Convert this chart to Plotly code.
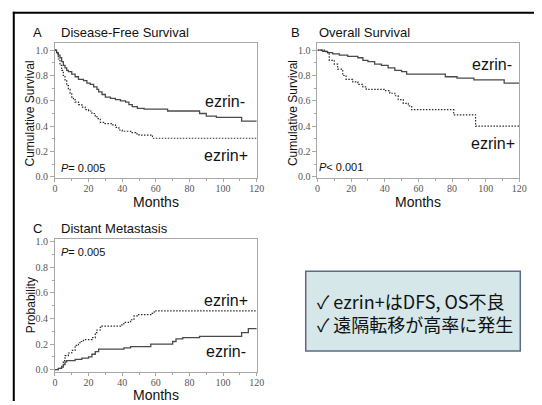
import plotly.graph_objects as go

W, H = 542, 405

# ---------------- data (months, probability) ----------------
dfs_neg_t = [0, 1, 2, 3, 4, 5, 6, 7, 8, 10, 12, 14, 17, 19, 21, 23, 25, 26, 28, 30, 33, 36, 39, 42, 44, 46, 49, 53, 67, 86, 90, 96, 111, 120]
dfs_neg_s = [1.0, 0.98, 0.96, 0.94, 0.91, 0.88, 0.86, 0.84, 0.83, 0.81, 0.79, 0.77, 0.76, 0.74, 0.73, 0.71, 0.69, 0.67, 0.65, 0.63, 0.62, 0.61, 0.60, 0.59, 0.57, 0.555, 0.54, 0.535, 0.52, 0.50, 0.48, 0.47, 0.44, 0.44]
dfs_pos_t = [0, 1, 2, 3, 4, 5, 6, 7, 8, 9, 10, 11, 12, 14, 16, 18, 20, 22, 24, 25, 27, 29, 34, 36, 38, 40, 45, 48, 50, 58, 120]
dfs_pos_s = [1.0, 0.97, 0.93, 0.88, 0.84, 0.80, 0.76, 0.72, 0.69, 0.66, 0.63, 0.61, 0.59, 0.57, 0.55, 0.53, 0.52, 0.50, 0.48, 0.46, 0.43, 0.42, 0.41, 0.39, 0.37, 0.36, 0.35, 0.34, 0.33, 0.305, 0.305]

os_neg_t = [0, 3, 6, 9, 13, 18, 24, 27, 30, 34, 38, 42, 46, 50, 53, 76, 83, 93, 111, 120]
os_neg_s = [1.0, 0.99, 0.98, 0.97, 0.96, 0.95, 0.94, 0.92, 0.91, 0.89, 0.88, 0.86, 0.84, 0.83, 0.81, 0.79, 0.78, 0.765, 0.74, 0.74]
os_pos_t = [0, 5, 7, 10, 12, 15, 17, 21, 24, 27, 29, 40, 43, 46, 48, 51, 54, 56, 81, 94, 120]
os_pos_s = [1.0, 0.98, 0.92, 0.89, 0.85, 0.80, 0.77, 0.75, 0.73, 0.71, 0.69, 0.68, 0.66, 0.64, 0.61, 0.58, 0.56, 0.53, 0.49, 0.40, 0.40]

dm_pos_t = [0, 2, 4, 5, 6, 8, 10, 12, 14, 15, 17, 22, 24, 25, 27, 28, 39, 41, 45, 47, 49, 57, 59, 120]
dm_pos_p = [0.0, 0.01, 0.03, 0.07, 0.11, 0.13, 0.15, 0.19, 0.21, 0.22, 0.235, 0.25, 0.29, 0.31, 0.33, 0.34, 0.35, 0.37, 0.39, 0.42, 0.43, 0.44, 0.46, 0.46]
dm_neg_t = [0, 2, 4, 5, 6, 7, 12, 16, 20, 22, 24, 26, 41, 45, 57, 70, 72, 76, 86, 111, 115, 120]
dm_neg_p = [0.0, 0.01, 0.02, 0.04, 0.06, 0.07, 0.08, 0.09, 0.10, 0.12, 0.14, 0.16, 0.17, 0.18, 0.20, 0.22, 0.24, 0.25, 0.26, 0.29, 0.32, 0.32]

y_ticks = [0.0, 0.2, 0.4, 0.6, 0.8, 1.0]
y_ticktext = ["0.0", "0.2", "0.4", "0.6", "0.8", "1.0"]
x_ticks = [0, 20, 40, 60, 80, 100, 120]

panel_titles = [("A", "Disease-Free Survival"), ("B", "Overall Survival"), ("C", "Distant Metastasis")]
summary_lines = ["✓ ezrin+はDFS, OS不良", "✓ 遠隔転移が高率に発生"]


def fx(px):
    return px / W


def fy(py):
    return 1 - py / H


SANS = "Liberation Sans"
SERIF = "Liberation Serif"
FRAME = "#a8a8a8"

solid = dict(shape="hv", color="#4a4a4a", width=1.3)
dotted = dict(shape="hv", color="#2a2a2a", width=1.2, dash="1.5px,1.5px")

fig = go.Figure()
fig.add_trace(go.Scatter(x=dfs_neg_t, y=dfs_neg_s, mode="lines", line=solid, xaxis="x", yaxis="y"))
fig.add_trace(go.Scatter(x=dfs_pos_t, y=dfs_pos_s, mode="lines", line=dotted, xaxis="x", yaxis="y"))
fig.add_trace(go.Scatter(x=os_neg_t, y=os_neg_s, mode="lines", line=solid, xaxis="x2", yaxis="y2"))
fig.add_trace(go.Scatter(x=os_pos_t, y=os_pos_s, mode="lines", line=dotted, xaxis="x2", yaxis="y2"))
fig.add_trace(go.Scatter(x=dm_pos_t, y=dm_pos_p, mode="lines", line=dotted, xaxis="x3", yaxis="y3"))
fig.add_trace(go.Scatter(x=dm_neg_t, y=dm_neg_p, mode="lines", line=solid, xaxis="x3", yaxis="y3"))


def xax(dom, anchor):
    return dict(domain=dom, anchor=anchor, range=[0, 120], tickvals=x_ticks,
                showline=True, mirror=True, linecolor=FRAME, linewidth=1,
                ticks="outside", ticklen=3, tickcolor=FRAME, ticklabelstandoff=-2,
                minor=dict(ticks="outside", ticklen=2, tickcolor=FRAME, dtick=10, tick0=0),
                tickfont=dict(family=SERIF, size=10, color="#5a5550"),
                showgrid=False, zeroline=False, fixedrange=True)


def yax(dom, anchor, rng):
    return dict(domain=dom, anchor=anchor, range=rng, tickvals=y_ticks, ticktext=y_ticktext,
                showline=True, mirror=True, linecolor=FRAME, linewidth=1,
                ticks="outside", ticklen=4, tickcolor=FRAME,
                minor=dict(ticks="outside", ticklen=2, tickcolor=FRAME, dtick=0.1, tick0=0),
                tickfont=dict(family=SERIF, size=10, color="#5a5550"),
                showgrid=False, zeroline=False, fixedrange=True)


rngAB = [-0.008, 1.054]
rngC = [-0.015, 1.023]

fig.update_layout(
    width=W, height=H, margin=dict(l=0, r=0, t=0, b=0),
    paper_bgcolor="white", plot_bgcolor="white", showlegend=False,
    xaxis=xax([fx(53), fx(259)], "y"),
    yaxis=yax([fy(178), fy(41)], "x", rngAB),
    xaxis2=xax([fx(321), fx(527)], "y2"),
    yaxis2=yax([fy(178), fy(41)], "x2", rngAB),
    xaxis3=xax([fx(53), fx(259)], "y3"),
    yaxis3=yax([fy(375), fy(240)], "x3", rngC),
)

ann = []


def txt(x, y, text, size, xanchor="center", family=SANS, color="#111", angle=0, align="center"):
    ann.append(dict(x=fx(x), y=fy(y), xref="paper", yref="paper", text=text, showarrow=False,
                    xanchor=xanchor, yanchor="middle", textangle=angle, align=align,
                    font=dict(family=family, size=size, color=color)))


# panel titles
for (letter, title), (lx, tx, ty) in zip(panel_titles, [(35, 57, 30), (299, 321, 30), (35, 57, 229)]):
    txt(lx, ty, letter, 13)
    txt(tx, ty, title, 13, xanchor="left")

# axis titles
txt(28, 112, "Cumulative Survival", 12, angle=-90)
txt(296, 112, "Cumulative Survival", 12, angle=-90)
txt(28, 307, "Probability", 12, angle=-90)
txt(156, 202, "Months", 14)
txt(424, 202, "Months", 14)
txt(156, 399, "Months", 14)

# in-plot labels
txt(227, 100, "ezrin-", 16)
txt(228, 155, "ezrin+", 16)
txt(57, 168, "<i>P</i>= 0.005", 11, xanchor="left")
txt(499, 63, "ezrin-", 16)
txt(500, 143, "ezrin+", 16)
txt(321, 167, "<i>P</i>< 0.001", 11, xanchor="left")
txt(57, 253, "<i>P</i>= 0.005", 11, xanchor="left")
txt(228, 303, "ezrin+", 16)
txt(228, 355, "ezrin-", 16)

# summary box text
txt(318, 315, "<br>".join(summary_lines), 18, xanchor="left", family="Noto Sans CJK JP", align="left")

fig.update_layout(annotations=ann)

shapes = [
    dict(type="rect", xref="paper", yref="paper", x0=fx(309), x1=fx(528), y0=fy(354), y1=fy(273),
         fillcolor="#d6e7ea", line=dict(color="#5c6a88", width=1.5), layer="below"),
    dict(type="line", xref="paper", yref="paper", x0=fx(10), x1=fx(542), y0=fy(10), y1=fy(10),
         line=dict(color="black", width=2)),
    dict(type="line", xref="paper", yref="paper", x0=fx(11), x1=fx(11), y0=fy(9), y1=fy(405),
         line=dict(color="black", width=2)),
]
fig.update_layout(shapes=shapes)

fig.write_html("out.html")
